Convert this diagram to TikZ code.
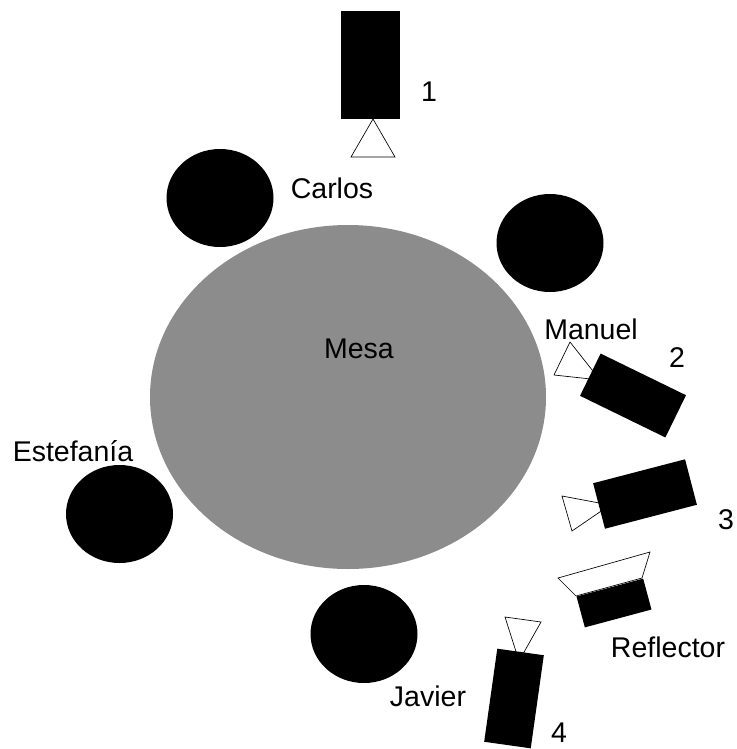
\documentclass[tikz,border=0pt]{standalone}
\usepackage{fontspec}
\setmainfont{Liberation Sans}
\usetikzlibrary{positioning,shapes.geometric}
\definecolor{tablegray}{HTML}{8C8C8C}
\newlength{\pxu}
\setlength{\pxu}{0.75pt}
\tikzset{
  person/.style={draw=none,fill=black,ellipse,minimum width=107\pxu,minimum height=98\pxu,inner sep=0pt},
  camera/.style={fill=black,minimum width=95\pxu,minimum height=47\pxu,inner sep=0pt},
  lens/.style={draw=black,fill=white,line width=0.5pt},
  lbl/.style={font=\fontsize{28.5\pxu}{30\pxu}\selectfont,inner sep=0pt,text=black},
}
\begin{document}
\begin{tikzpicture}[x=0.75pt,y=-0.75pt]
\useasboundingbox (0,0) rectangle (737,749);
% mesa y personas
\node[fill=tablegray,ellipse,minimum width=396\pxu,minimum height=344\pxu,inner sep=0pt] (mesa) at (348,397) {};
\node[person] (carlos) at (220,198) {};
\node[person] (manuel) at (550,243) {};
\node[person] (estefania) at (119.5,514) {};
\node[person] (javier) at (364,634) {};
% camaras
\draw[lens] (373,119) -- (395,157) -- (351,157) -- cycle;
\node[camera,minimum width=59\pxu,minimum height=108\pxu] (cam1) at (370.5,65) {};
\draw[lens] (600,380) -- (554,375) -- (570,342) -- cycle;
\node[camera,rotate=-26] (cam2) at (633,395.5) {};
\draw[lens] (610,505) -- (572,531) -- (562,496) -- cycle;
\node[camera,rotate=14.6] (cam3) at (645,494) {};
\draw[lens] (519,661) -- (541,622) -- (505,617) -- cycle;
\node[camera,minimum width=47\pxu,minimum height=94\pxu,rotate=-8] (cam4) at (514,698.5) {};
% reflector
\draw[lens] (576,596) -- (558,578) -- (650,552) -- (642,578) -- cycle;
\node[fill=black,minimum width=69\pxu,minimum height=32\pxu,inner sep=0pt,rotate=15] (refl) at (614,603) {};
% textos
\node[lbl] (t1) at (429,92) {1};
\node[lbl] (t2) at (677,358) {2};
\node[lbl] (t3) at (726,520) {3};
\node[lbl] (t4) at (559,733) {4};
\node[lbl] (tcarlos) at (332,188) {Carlos};
\node[lbl] (tmanuel) at (591,329) {Manuel};
\node[lbl] (tmesa) at (359,349) {Mesa};
\node[lbl] (testefania) at (73,451) {Estefanía};
\node[lbl] (tjavier) at (428,696) {Javier};
\node[lbl] (treflector) at (668,647) {Reflector};
\end{tikzpicture}
\end{document}
